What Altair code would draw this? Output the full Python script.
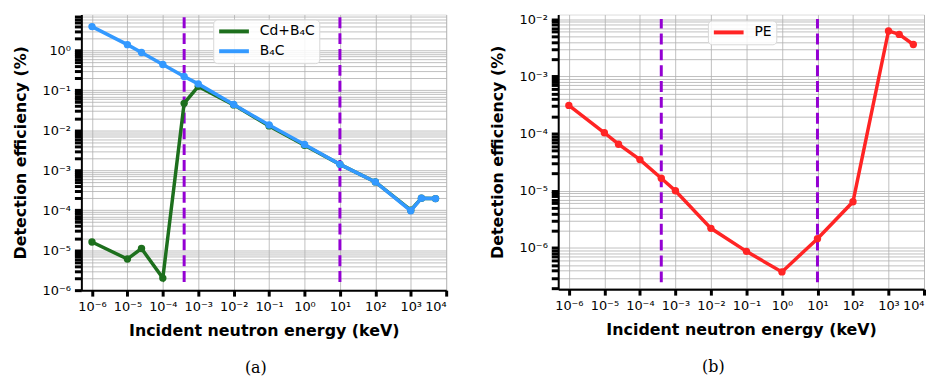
import altair as alt
import pandas as pd

energy = [1e-6, 1e-5, 2.5e-5, 1e-4, 4e-4, 1e-3, 1e-2, 1e-1, 1, 10, 100, 1000, 2000, 5000]
cd_b4c = [1.6e-5, 6e-6, 1.1e-5, 2e-6, 0.047, 0.125, 0.043, 0.0128, 0.0042, 0.0014, 5.1e-4, 1.0e-4, 2.0e-4, 1.95e-4]
b4c = [3.9, 1.38, 0.88, 0.44, 0.22, 0.144, 0.044, 0.0135, 0.0044, 0.0014, 5.1e-4, 0.97e-4, 2.0e-4, 1.95e-4]
pe = [3.1e-4, 1.03e-4, 6.5e-5, 3.5e-5, 1.65e-5, 1.0e-5, 2.2e-6, 8.7e-7, 3.8e-7, 1.45e-6, 6.4e-6, 6.2e-3, 5.4e-3, 3.6e-3]
cutoffs = [4e-4, 10]

series_names = ["Cd+B\u2084C", "B\u2084C"]
colors_a = ["#1d6f1d", "#3399ff"]
color_pe = "#ff2424"
violet = "#9400d3"

sup = {"-": "\u207b", "0": "\u2070", "1": "\u00b9", "2": "\u00b2", "3": "\u00b3", "4": "\u2074",
       "5": "\u2075", "6": "\u2076", "7": "\u2077", "8": "\u2078", "9": "\u2079"}


def lab(e):
    return "10" + "".join(sup[c] for c in str(e))


def label_expr(exps):
    expr = "''"
    for e in exps:
        v = 10.0 ** e
        expr = f"abs(datum.value - {v!r}) < {v * 1e-6!r} ? '{lab(e)}' : ({expr})"
    return expr


def minor_vals(lo, hi):
    vals = []
    for d in range(-8, 3):
        for m in range(1, 10):
            v = m * 10.0 ** d
            if lo * 0.9999 <= v <= hi * 1.0001:
                vals.append(v)
    return vals


x_dom = [10 ** -6.3, 1e4]
x_major = [10.0 ** e for e in range(-6, 5)]

grid_color = "#b0b0b0"


def x_axis():
    return alt.Axis(values=x_major, labelExpr=label_expr(range(-6, 5)), title="Incident neutron energy (keV)",
                    titleFontSize=16, titleFontWeight="bold", titleFont="DejaVu Sans", titlePadding=9,
                    labelFont="DejaVu Sans", labelFontSize=13, labelColor="black", labelPadding=5,
                    tickSize=6, tickWidth=3, tickColor="black",
                    domainColor="black", domainWidth=2,
                    grid=True, gridColor=grid_color, gridWidth=0.8)


def y_axis(lo, hi, exps):
    return alt.Axis(values=minor_vals(lo, hi), labelExpr=label_expr(exps), title="Detection efficiency (%)",
                    titleFontSize=16, titleFontWeight="bold", titleFont="DejaVu Sans", titlePadding=14,
                    labelFont="DejaVu Sans", labelFontSize=13, labelColor="black", labelPadding=4,
                    tickSize=7, tickWidth=3, tickColor="black",
                    domainColor="black", domainWidth=2,
                    grid=True, gridColor=grid_color, gridWidth=0.8)


def legend(lx, ly):
    return alt.Legend(title=None, orient="none", legendX=lx, legendY=ly, symbolType="M-1,0H4",
                      symbolSize=144, symbolStrokeWidth=4, labelFontSize=14, labelFont="DejaVu Sans",
                      labelColor="black", strokeColor="#d8d8d8", fillColor="rgba(255,255,255,0.85)",
                      cornerRadius=4, padding=4, rowPadding=4, labelOffset=27)


# ---- panel (a)
ya_dom = [1e-6, 7.8]
df_a = pd.DataFrame({"E": energy * 2, "eff": cd_b4c + b4c,
                     "series": [series_names[0]] * len(energy) + [series_names[1]] * len(energy)})
rules_a = pd.DataFrame({"E": cutoffs, "eff": [1.6e-6] * 2, "y2": [7.0] * 2})

sx_a = alt.Scale(type="log", domain=x_dom)
sy_a = alt.Scale(type="log", domain=ya_dom)
col_a = alt.Color("series:N", scale=alt.Scale(domain=series_names, range=colors_a), legend=legend(133, 5))

rule_a = alt.Chart(rules_a).mark_rule(color=violet, strokeWidth=3, strokeDash=[11, 5]).encode(
    x=alt.X("E:Q", scale=sx_a, axis=x_axis()),
    y=alt.Y("eff:Q", scale=sy_a, axis=y_axis(ya_dom[0], ya_dom[1], range(-6, 1))),
    y2="y2:Q")

layers_a = [rule_a]
for s in series_names:
    base = alt.Chart(df_a).transform_filter(alt.datum.series == s)
    enc = dict(x=alt.X("E:Q", scale=sx_a), y=alt.Y("eff:Q", scale=sy_a), color=col_a)
    layers_a.append(base.mark_line(strokeWidth=3.5).encode(**enc))
    layers_a.append(base.mark_circle(size=55, opacity=1).encode(**enc))

panel_a = alt.layer(*layers_a).properties(
    width=368, height=278,
    title=alt.TitleParams(text="(a)", orient="bottom", font="DejaVu Serif", fontSize=16, fontWeight="normal",
                          color="black", offset=22, frame="group", anchor="middle", dx=-8))

# ---- panel (b)
yb_dom = [1.9e-7, 1.2e-2]
df_b = pd.DataFrame({"E": energy, "eff": pe, "series": ["PE"] * len(energy)})
rules_b = pd.DataFrame({"E": cutoffs, "eff": [2.5e-7] * 2, "y2": [1e-2] * 2})

sx_b = alt.Scale(type="log", domain=x_dom)
sy_b = alt.Scale(type="log", domain=yb_dom)
col_b = alt.Color("series:N", scale=alt.Scale(domain=["PE"], range=[color_pe]), legend=legend(151, 6))

rule_b = alt.Chart(rules_b).mark_rule(color=violet, strokeWidth=3, strokeDash=[11, 5]).encode(
    x=alt.X("E:Q", scale=sx_b, axis=x_axis()),
    y=alt.Y("eff:Q", scale=sy_b, axis=y_axis(yb_dom[0], yb_dom[1], range(-6, -1))),
    y2="y2:Q")
enc_b = dict(x=alt.X("E:Q", scale=sx_b), y=alt.Y("eff:Q", scale=sy_b), color=col_b)
line_b = alt.Chart(df_b).mark_line(strokeWidth=3.5).encode(**enc_b)
pts_b = alt.Chart(df_b).mark_circle(size=55, opacity=1).encode(**enc_b)

panel_b = alt.layer(rule_b, line_b, pts_b).properties(
    width=369, height=277,
    title=alt.TitleParams(text="(b)", orient="bottom", font="DejaVu Serif", fontSize=16, fontWeight="normal",
                          color="black", offset=22, frame="group", anchor="middle", dx=-28))

chart = alt.hconcat(panel_a, panel_b, spacing=40).resolve_scale(color="independent").configure_view(
    stroke="black", strokeWidth=2).configure(background="white",
                                             padding={"left": 3, "top": 3, "right": 0, "bottom": 0})

chart.save("out.html", embed_options={"renderer": "svg", "actions": False})
